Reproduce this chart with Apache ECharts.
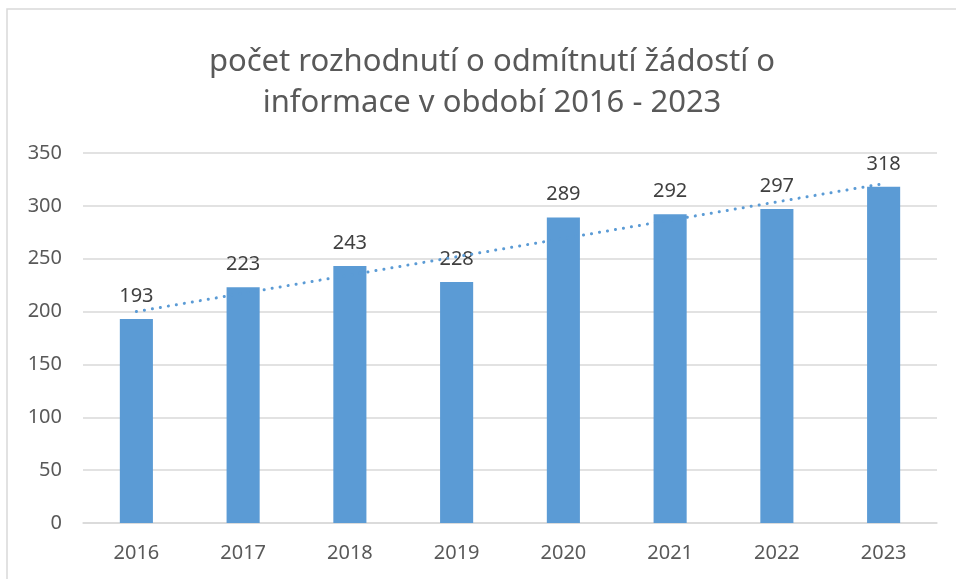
<!DOCTYPE html>
<html>
<head>
<meta charset="utf-8">
<script src="https://cdn.jsdelivr.net/npm/echarts@6/dist/echarts.min.js"></script>
<style>
  html, body { margin: 0; padding: 0; background: #fff; }
  #chart { width: 956px; height: 579px; }
</style>
</head>
<body>
<div id="chart"></div>
<script>
const years = ['2016', '2017', '2018', '2019', '2020', '2021', '2022', '2023']
const counts = [193, 223, 243, 228, 289, 292, 297, 318]
// linear trend: start and end value
const trendYears = ['2016', '2023']
const trendValues = [200, 321]
const yTicks = { min: 0, max: 350, interval: 50 }

const textGray = '#595959'
const barBlue = '#5B9BD5'

const chart = echarts.init(document.getElementById('chart'))
chart.setOption({
  animation: false,
  graphic: [
    {
      type: 'rect',
      shape: { x: 7, y: 9, width: 960, height: 600 },
      style: { fill: 'none', stroke: '#d9d9d9', lineWidth: 1.5 }
    }
  ],
  title: {
    text: 'počet rozhodnutí o odmítnutí žádostí o\ninformace v období 2016 - 2023',
    left: 487,
    top: 37,
    textAlign: 'center',
    textStyle: {
      fontFamily: 'Noto Sans',
      fontSize: 31,
      fontWeight: 'normal',
      color: textGray,
      lineHeight: 41
    }
  },
  grid: { left: 83, right: 19, top: 153, bottom: 56 },
  xAxis: {
    type: 'category',
    data: years,
    axisLine: { show: true, lineStyle: { color: '#d9d9d9', width: 1.5 } },
    axisTick: { show: false },
    axisLabel: { color: textGray, fontSize: 20, fontFamily: 'Noto Sans', margin: 20 }
  },
  yAxis: {
    type: 'value',
    min: yTicks.min,
    max: yTicks.max,
    interval: yTicks.interval,
    axisLine: { show: false },
    axisTick: { show: false },
    splitLine: { lineStyle: { color: '#d9d9d9', width: 1.5 } },
    axisLabel: { color: textGray, fontSize: 20, fontFamily: 'Noto Sans', margin: 21 }
  },
  series: [
    {
      type: 'bar',
      data: counts,
      barWidth: '31%',
      itemStyle: { color: barBlue },
      label: {
        show: true,
        position: 'top',
        distance: 13,
        color: '#404040',
        fontSize: 20,
        fontFamily: 'Noto Sans'
      }
    },
    {
      type: 'line',
      data: trendYears.map((y, i) => [y, trendValues[i]]),
      symbol: 'none',
      silent: true,
      z: 3,
      lineStyle: { color: barBlue, width: 3, type: [0.1, 8], cap: 'round' }
    }
  ]
})
</script>
</body>
</html>
